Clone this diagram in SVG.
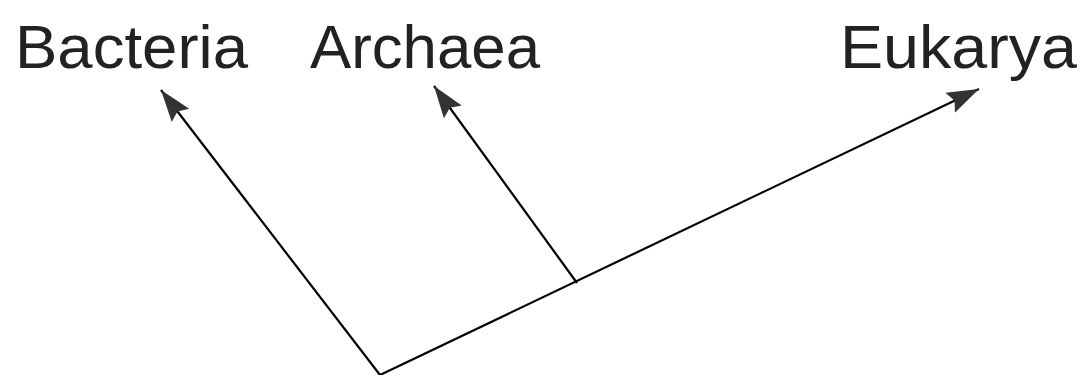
<svg xmlns="http://www.w3.org/2000/svg" width="1082" height="375" viewBox="0 0 1082 375">
<style>
.lbl{font-family:"Liberation Sans",Arial,sans-serif;font-size:62px;fill:#222;}
.edge{stroke:#000;stroke-width:2.2;fill:none;}
</style>
<defs>
<marker id="ah" markerUnits="userSpaceOnUse" markerWidth="34" markerHeight="26" refX="32" refY="13" orient="auto">
<path d="M0,2 L32,13 L0,24 L5,13 Z" fill="#333"/>
</marker>
</defs>
<rect width="1082" height="375" fill="#fff"/>
<g id="connectors">
<line class="edge" x1="380" y1="375" x2="161" y2="90" marker-end="url(#ah)"/>
<line class="edge" x1="577" y1="283" x2="434" y2="86" marker-end="url(#ah)"/>
<line class="edge" x1="380" y1="375" x2="979" y2="89" marker-end="url(#ah)"/>
</g>
<g id="bacteria"><text class="lbl" x="15" y="68" textLength="233" lengthAdjust="spacingAndGlyphs">Bacteria</text></g>
<g id="archaea"><text class="lbl" x="310" y="68" textLength="230" lengthAdjust="spacingAndGlyphs">Archaea</text></g>
<g id="eukarya"><text class="lbl" x="840" y="68" textLength="237" lengthAdjust="spacingAndGlyphs">Eukarya</text></g>
</svg>
